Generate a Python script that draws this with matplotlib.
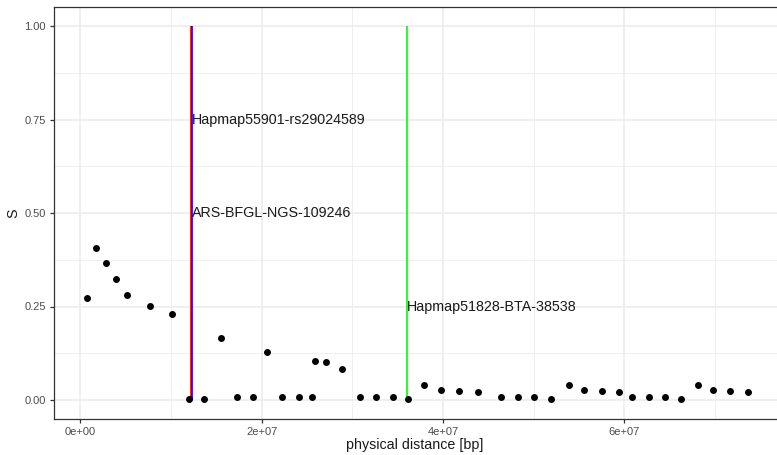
import matplotlib
matplotlib.use("Agg")
import matplotlib.pyplot as plt
from matplotlib.ticker import FixedLocator

plt.rcParams['font.family'] = ['Liberation Sans', 'DejaVu Sans']

pos = [0.74e6, 1.76e6, 2.83e6, 3.97e6, 5.15e6, 7.64e6, 1.01e7, 1.20e7, 1.37e7, 1.554e7,
       1.73e7, 1.90e7, 2.06e7, 2.226e7, 2.41e7, 2.556e7, 2.594e7, 2.707e7, 2.887e7, 3.08e7,
       3.26e7, 3.45e7, 3.62e7, 3.79e7, 3.98e7, 4.18e7, 4.39e7, 4.64e7, 4.83e7, 5.01e7,
       5.19e7, 5.39e7, 5.56e7, 5.75e7, 5.94e7, 6.09e7, 6.27e7, 6.45e7, 6.63e7, 6.81e7,
       6.98e7, 7.17e7, 7.37e7]
S = [0.273, 0.407, 0.366, 0.323, 0.280, 0.252, 0.229, 0.004, 0.004, 0.167,
     0.007, 0.007, 0.129, 0.007, 0.007, 0.007, 0.105, 0.102, 0.082, 0.007,
     0.007, 0.007, 0.004, 0.039, 0.028, 0.024, 0.022, 0.008, 0.008, 0.008,
     0.004, 0.039, 0.028, 0.024, 0.022, 0.008, 0.008, 0.008, 0.004, 0.039,
     0.028, 0.024, 0.022]

markers = ["Hapmap55901-rs29024589", "ARS-BFGL-NGS-109246", "Hapmap51828-BTA-38538"]
marker_pos = [1.22e7, 1.23e7, 3.603e7]
marker_label_y = [0.75, 0.50, 0.25]
marker_colors = ["#FF0000", "#0000FF", "#00FF00"]
label_pos = [1.23e7, 1.23e7, 3.603e7]

x_ticks = [0, 2e7, 4e7, 6e7]
x_ticklabels = ["0e+00", "2e+07", "4e+07", "6e+07"]
y_ticks = [0.0, 0.25, 0.5, 0.75, 1.0]
y_ticklabels = ["0.00", "0.25", "0.50", "0.75", "1.00"]

W, H = 777, 455
fig = plt.figure(figsize=(W / 100, H / 100), dpi=100)
left, right, top, bottom = 54, 782, 7.3, 418.7
ax = fig.add_axes([left / W, (H - bottom) / H, (right - left) / W, (bottom - top) / H])

ax.set_xlim(-2.9e6, 7.74e7)
ax.set_ylim(-0.05, 1.05)

ax.xaxis.set_major_locator(FixedLocator(x_ticks))
ax.xaxis.set_minor_locator(FixedLocator([1e7, 3e7, 5e7, 7e7]))
ax.yaxis.set_major_locator(FixedLocator(y_ticks))
ax.yaxis.set_minor_locator(FixedLocator([0.125, 0.375, 0.625, 0.875]))
ax.set_xticklabels(x_ticklabels)
ax.set_yticklabels(y_ticklabels)

ax.grid(which='major', color='#EBEBEB', linewidth=1.1)
ax.grid(which='minor', color='#EBEBEB', linewidth=0.55)
ax.set_axisbelow(True)

for s in ax.spines.values():
    s.set_color('#333333')
    s.set_linewidth(0.9)

ax.tick_params(which='major', length=3, color='#333333', width=0.9,
               labelsize=8, labelcolor='#4D4D4D', pad=3)
ax.tick_params(which='minor', length=0)

ax.scatter(pos, S, s=25, color='black', zorder=3, linewidths=0)

for mp, c in zip(marker_pos, marker_colors):
    ax.vlines(mp, 0, 1, color=c, linewidth=1.2, zorder=2)

for lbl, lx, ly in zip(markers, label_pos, marker_label_y):
    ax.text(lx, ly, lbl, ha='left', va='center', fontsize=10.3, color='#1a1a1a', zorder=4)

ax.set_xlabel("physical distance [bp]", fontsize=10.3, color='#1a1a1a')
ax.set_ylabel("S", fontsize=10.3, color='#1a1a1a')
ax.xaxis.label.set_va('center')
ax.yaxis.label.set_va('center')
ax.xaxis.set_label_coords((415 - left) / (right - left), -(445 - bottom) / (bottom - top))
ax.yaxis.set_label_coords(-(left - 13) / (right - left), (bottom - 213) / (bottom - top))

fig.savefig("out.png", dpi=100)
